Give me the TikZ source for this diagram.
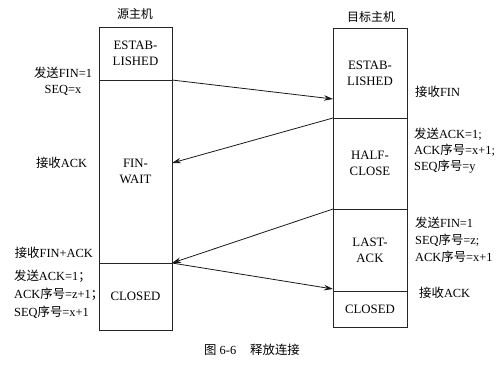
\documentclass[tikz,border=0pt]{standalone}
\usepackage{fontspec}
\setmainfont{Liberation Serif}
\newfontfamily\cjk{Noto Sans CJK SC}
\usetikzlibrary{arrows.meta}
\begin{document}
\begin{tikzpicture}[x=1pt,y=-1pt,
  state/.style={draw=black!85, line width=0.9pt, minimum width=73pt, inner sep=0pt, outer sep=0pt,
    align=center, font=\fontsize{12.8}{16}\selectfont},
  lbl/.style={inner sep=0pt, font=\fontsize{12.4}{17}\selectfont},
  ttl/.style={inner sep=0pt, font=\cjk\fontsize{12}{14}\selectfont},
  arr/.style={-{Stealth[length=9pt,width=5.5pt]}, line width=0.8pt, draw=black!90}]
\useasboundingbox[fill=white] (0,0) rectangle (499,365);

% titles
\node[ttl] (tl) at (135,14) {源主机};
\node[ttl] (tr) at (371,17) {目标主机};

% left host states
\node[state, minimum height=53pt]  (lest) at (135.5,53.5)  {ESTAB-\\LISHED};
\node[state, minimum height=183pt] (lfin) at (135.5,171.5) {FIN-\\WAIT};
\node[state, minimum height=67pt]  (lclo) at (135.5,296.5) {CLOSED};

% right host states
\node[state, minimum width=74pt, minimum height=90pt] (rest)  at (370,73)    {ESTAB-\\LISHED};
\node[state, minimum width=74pt, minimum height=91pt] (rhalf) at (370,163.5) {HALF-\\CLOSE};
\node[state, minimum width=74pt, minimum height=82pt] (rlast) at (370,250)   {LAST-\\ACK};
\node[state, minimum width=74pt, minimum height=36pt] (rclo)  at (370,309)   {CLOSED};

% arrows
\draw[arr] (lest.south east) -- ([yshift=19pt]rest.south west);
\draw[arr] (rhalf.north west) -- ([yshift=8.5pt]lfin.east);
\draw[arr] (rlast.north west) -- (lclo.north east);
\draw[arr] (lclo.north east) -- ([yshift=2pt]rclo.north west);

% left labels
\node[lbl, align=center, font=\fontsize{12.4}{16}\selectfont] (l1) at (63,81) {{\cjk 发送}FIN=1\\SEQ=x};
\node[lbl] (l2) at (61.5,163) {{\cjk 接收}ACK};
\node[lbl, anchor=east] (l3) at (93,252.5) {{\cjk 接收}FIN+ACK};
\node[lbl, align=left, anchor=west, font=\fontsize{12.4}{18}\selectfont] (l4) at (14,294.5)
  {{\cjk 发送}ACK=1{\cjk ；}\\ACK{\cjk 序号}=z+1{\cjk ；}\\SEQ{\cjk 序号}=x+1};

% right labels
\node[lbl, anchor=west] (r1) at (415,92) {{\cjk 接收}FIN};
\node[lbl, align=left, anchor=west, font=\fontsize{12.4}{16}\selectfont] (r2) at (414,151)
  {{\cjk 发送}ACK=1;\\ACK{\cjk 序号}=x+1;\\SEQ{\cjk 序号}=y};
\node[lbl, align=left, anchor=west, font=\fontsize{12.4}{17}\selectfont] (r3) at (415,240)
  {{\cjk 发送}FIN=1\\SEQ{\cjk 序号}=z;\\ACK{\cjk 序号}=x+1};
\node[lbl, anchor=west] (r4) at (419,293) {{\cjk 接收}ACK};

% caption
\node[lbl] (cap) at (252,350) {{\cjk 图} 6-6\hspace{14pt}{\cjk 释放连接}};
\end{tikzpicture}
\end{document}
